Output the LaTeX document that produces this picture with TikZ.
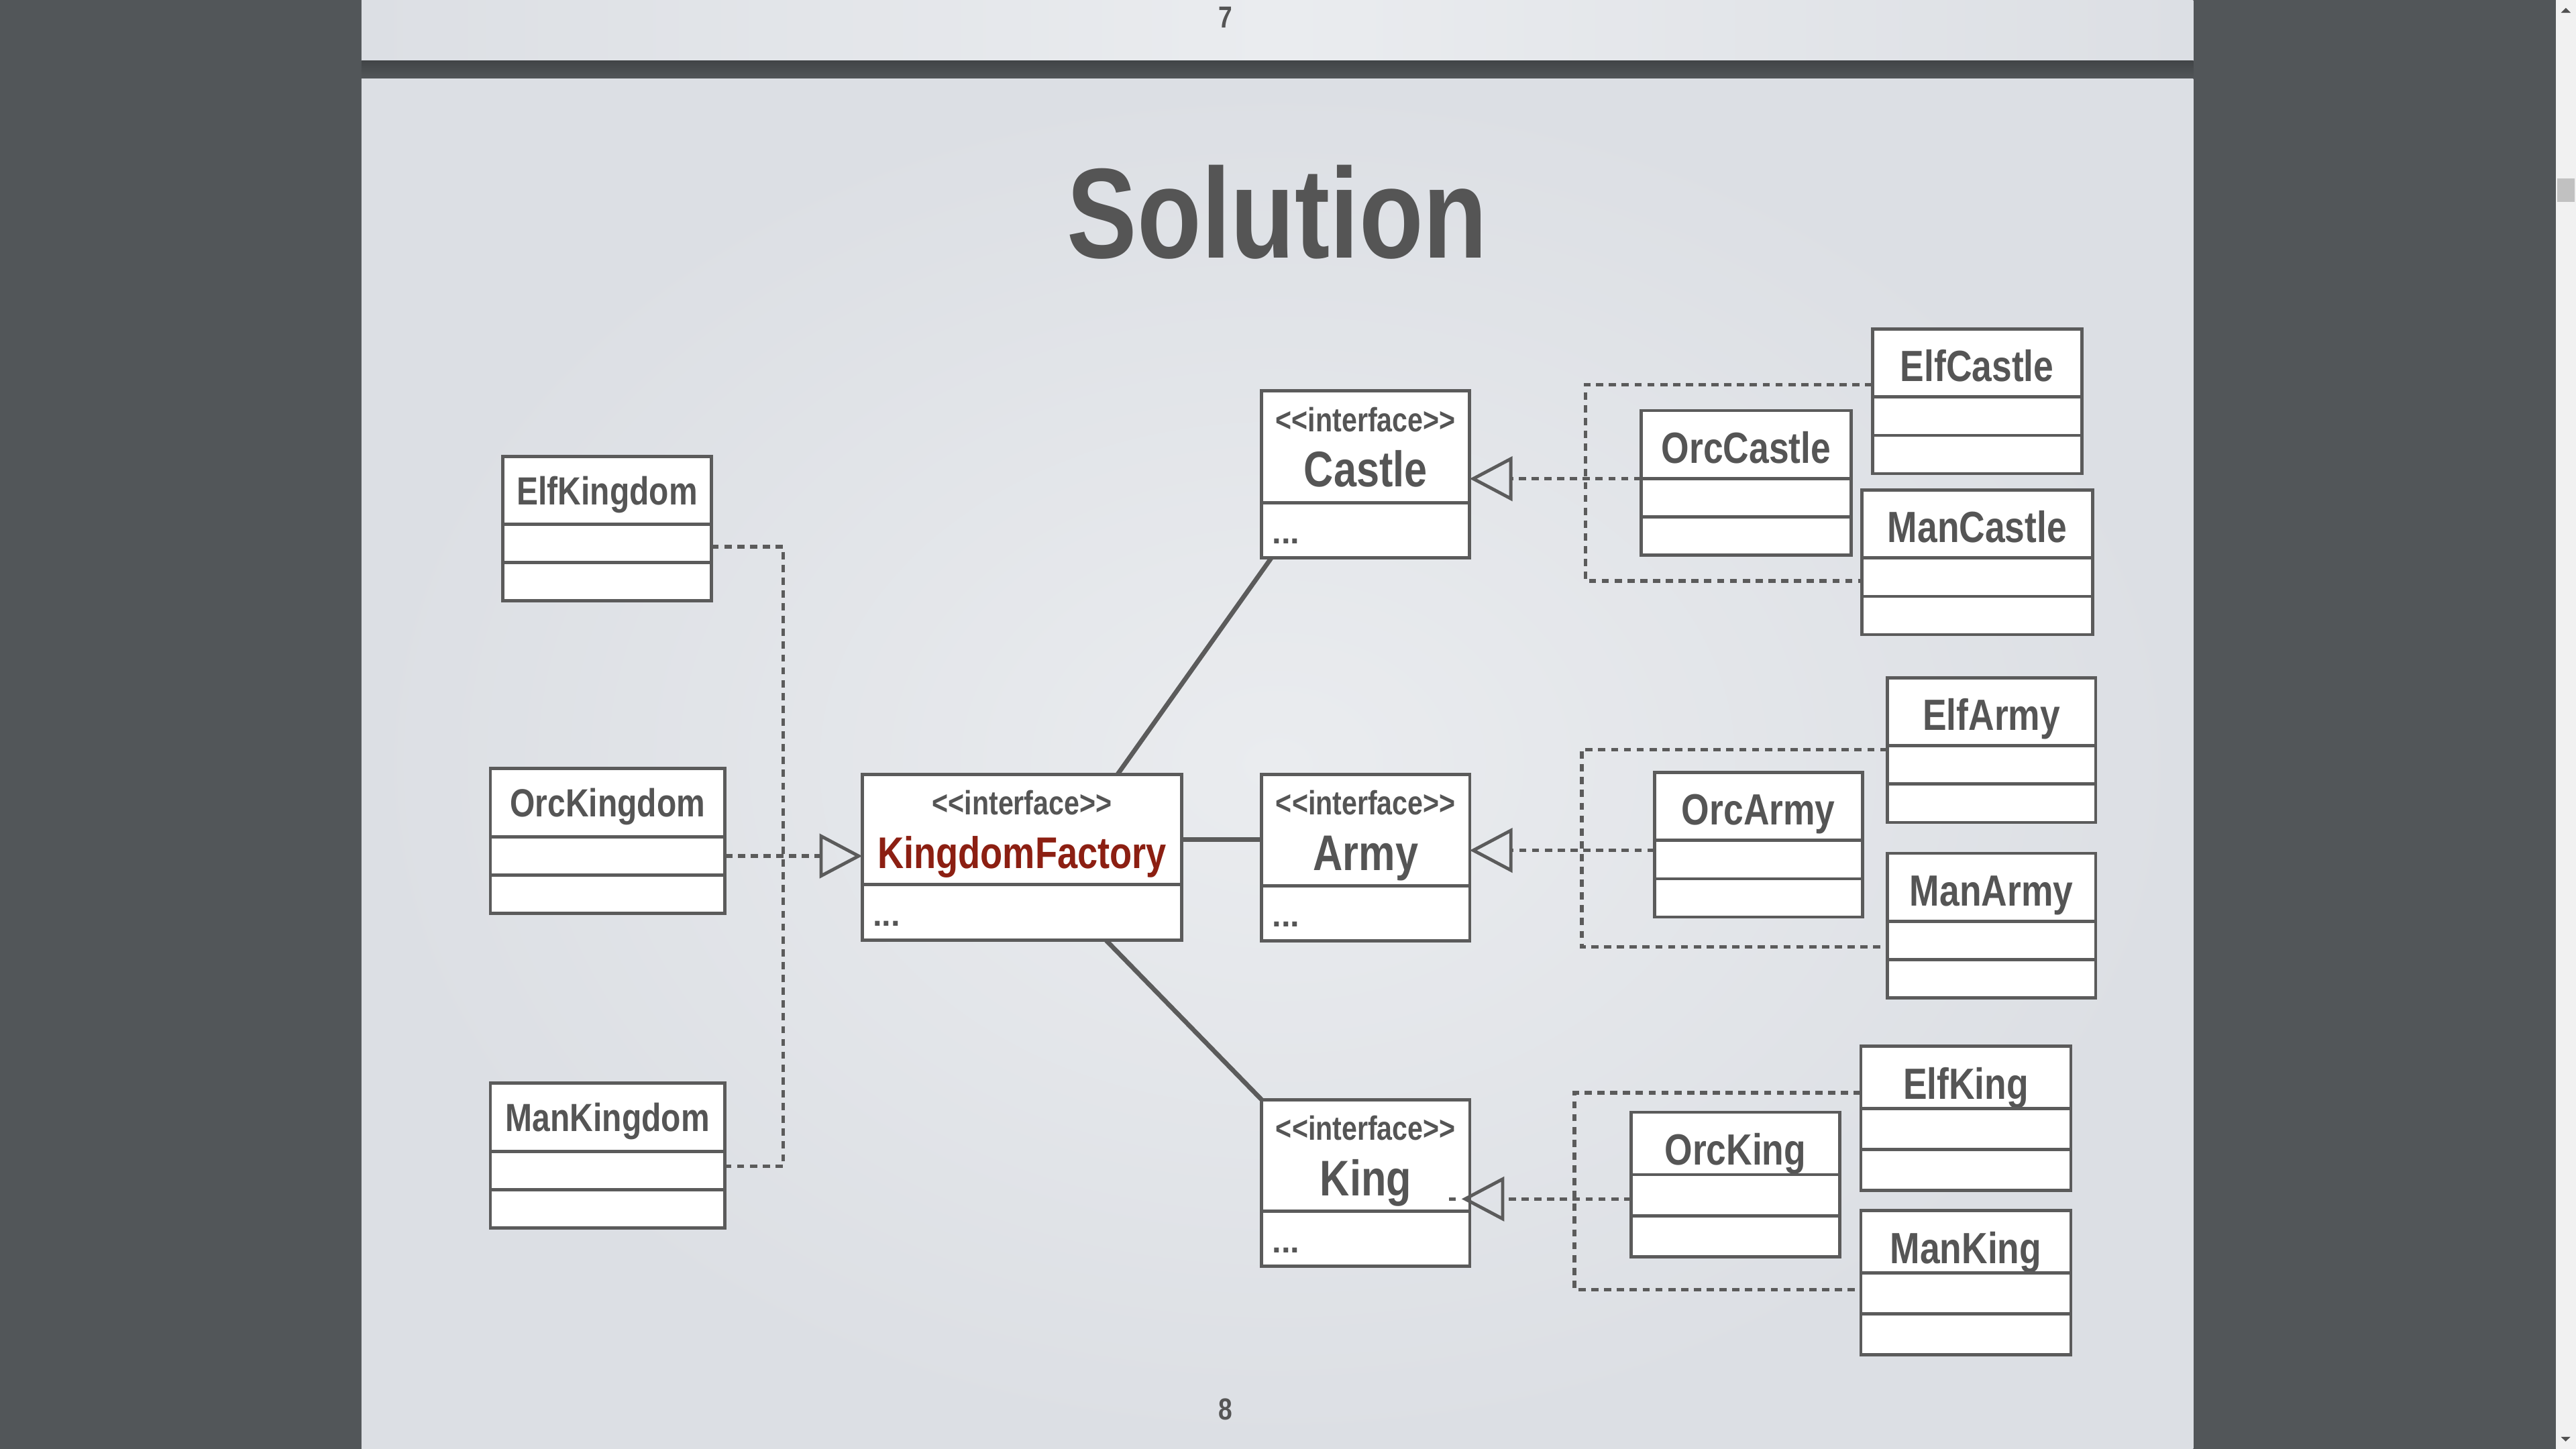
\documentclass[tikz,border=0pt]{standalone}
\usepackage{fontspec}
\setmainfont{Liberation Sans}[FakeStretch=0.82]
\newfontfamily\plainfont{Liberation Sans}
\newfontfamily\stereofamily{Liberation Sans}[FakeStretch=0.82]
\usetikzlibrary{positioning,arrows.meta}

\definecolor{desk}{HTML}{525659}
\definecolor{ink}{HTML}{5B5B5B}
\definecolor{txt}{HTML}{555555}
\definecolor{factory}{HTML}{8C1F12}
\definecolor{paperin}{HTML}{EAECEF}
\definecolor{paperout}{HTML}{DCDFE4}
\definecolor{track}{HTML}{F1F1F1}
\definecolor{thumb}{HTML}{C1C1C1}
\definecolor{scrollarrow}{HTML}{505050}

\newcommand\ifacefont{\fontsize{30.5}{34}\selectfont\bfseries}
\newcommand\factoryfont{\fontsize{27}{31}\selectfont\bfseries}
\newcommand\stereofont{\stereofamily\fontsize{20.5}{22}\selectfont\bfseries}
\newcommand\ellipsisfont{\plainfont\fontsize{20}{22}\selectfont\bfseries}
\newcommand\headfont{\fontsize{78}{88}\selectfont\bfseries}
\newcommand\pagenumfont{\fontsize{18.5}{20}\selectfont\bfseries}

\begin{document}
\begin{tikzpicture}[
    x=1pt, y=-1pt,
    box/.style={draw=ink, fill=white, line width=2pt, inner sep=0pt, outer sep=0pt, text=txt},
    cname/.style={box, text depth=0pt},
    cpart/.style={box},
    iname/.style={box, minimum width=126.7pt, minimum height=68pt, font=\ifacefont, text height=49pt, text depth=0pt},
    ibody/.style={box, text width=113.7pt, inner xsep=6.5pt, minimum height=33.5pt, align=left, font=\ellipsisfont, text height=16.5pt, text depth=0pt},
    stereo/.style={anchor=base, yshift=-24.7pt, inner sep=0pt, font=\stereofont, text=txt},
    pagenum/.style={anchor=base, inner sep=0pt, font=\pagenumfont, text=txt},
    assoc/.style={draw=ink, line width=2.8pt},
    dotline/.style={draw=ink, line width=2.2pt, dash pattern=on 4.4pt off 3.4pt},
    realize/.style={-{Triangle[open, length=26pt, width=27pt, line width=2pt]}}
]
    % screen, slides and scroll bar
    \useasboundingbox (0,0) rectangle (1568,882);
    \fill[desk] (0,0) rectangle (1568,882);
    \shade[left color=paperout, right color=paperout, middle color=paperin] (220,0) rectangle (1335,37);
    \shade[top color=desk!80!black, bottom color=desk] (220,37) rectangle (1335,48);
    \shade[inner color=paperin, outer color=paperout] (220,48) rectangle (1335,882);
    \fill[track] (1555.8,0) rectangle (1568,882);
    \fill[thumb] (1556.6,108.6) rectangle (1567.1,122.8);
    \fill[scrollarrow] (1558.8,7.8) -- (1561.8,4.8) -- (1564.8,7.8) -- cycle;
    \fill[scrollarrow] (1558.8,874.6) -- (1564.6,874.6) -- (1561.7,877.4) -- cycle;

    \node[pagenum] (prevnum) at (746,17) {7};
    \node[pagenum] (num) at (746,864.3) {8};
    \node[anchor=base, inner sep=0pt, font=\headfont, text=txt] (title) at (777.5,157) {Solution};

    % interfaces
    \node[iname, text=factory, font=\factoryfont, minimum width=194.6pt, minimum height=67pt, text height=47pt, anchor=north, label={[stereo]north:<<interface>>}] (kf) at (622.1,471.4) {KingdomFactory};
    \node[ibody, text width=181.6pt, minimum height=34pt, below=0pt of kf] (kf-b) {...};
    \node[iname, anchor=north, label={[stereo]north:<<interface>>}] (castle) at (831.25,237.9) {Castle};
    \node[ibody, below=0pt of castle] (castle-b) {...};
    \node[iname, anchor=north, label={[stereo]north:<<interface>>}] (army) at (831.3,471.3) {Army};
    \node[ibody, below=0pt of army] (army-b) {...};
    \node[iname, anchor=north, label={[stereo]north:<<interface>>}] (king) at (831.3,669.4) {King};
    \node[ibody, below=0pt of king] (king-b) {...};

    % concrete classes: name/text/x/top/width/name height/part height/font size/text height
    \foreach \n/\t/\x/\y/\w/\h/\p/\f/\th in {
        elfkingdom/ElfKingdom/369.55/277.7/127.1/41.5/23.3/23.9/17.3,
        orckingdom/OrcKingdom/369.9/467.9/142.8/41.5/23.3/23.9/17.3,
        mankingdom/ManKingdom/369.9/659.3/142.8/41.5/23.3/23.9/17.3,
        elfcastle/ElfCastle/1203.45/200.2/127.5/41.5/23.3/26.6/22.4,
        orccastle/OrcCastle/1062.9/249.9/127.8/41.5/23.3/26.6/22.4,
        mancastle/ManCastle/1203.5/298.2/140.6/41.5/23.3/26.6/22.4,
        elfarmy/ElfArmy/1212.2/412.5/126.8/41.5/23.3/26.6/22.4,
        orcarmy/OrcArmy/1070.35/470.1/126.5/41.5/23.3/26.6/22.4,
        manarmy/ManArmy/1212.2/519.4/126.8/41.5/23.3/26.6/22.4,
        elfking/ElfKing/1196.6/636.7/127.8/38/25/26.6/26.5,
        orcking/OrcKing/1056.3/677/126.8/38/25/26.6/26.5,
        manking/ManKing/1196.6/736.7/127.8/38/25/26.6/26.5}
    {
        \node[cname, font=\fontsize{\f}{\f}\selectfont\bfseries, text height=\th pt, minimum width=\w pt, minimum height=\h pt, anchor=north] (\n) at (\x,\y) {\t};
        \node[cpart, minimum width=\w pt, minimum height=\p pt, below=0pt of \n] (\n-1) {};
        \node[cpart, minimum width=\w pt, minimum height=\p pt, below=0pt of \n-1] (\n-2) {};
    }

    \coordinate (orcarmy-out) at ([yshift=-6pt]orcarmy-1.north west);
    \coordinate (orcking-out) at ([yshift=-2.3pt]orcking-1.west);
    \coordinate (king-in) at ([xshift=-5pt]king.east);
    \coordinate (kf-out) at ([yshift=-6.3pt]kf.east);

    % realizations
    \draw[dotline] ([yshift=-2pt]elfkingdom-1.east) -- ++(43.7,0) |- ([yshift=2.5pt]mankingdom-1.east);
    \draw[dotline, realize] (orckingdom-1.east) -- (orckingdom-1.east -| kf.west);
    \draw[dotline] ([yshift=7.6pt]elfcastle-1.north west) -| ([xshift=-34pt]orccastle.west) |- ([yshift=-2.3pt]mancastle-1.west);
    \draw[dotline, realize] (orccastle-1.north west) -- (orccastle-1.north west -| castle.east);
    \draw[dotline] ([yshift=-2.2pt]elfarmy-1.north west) -| ([xshift=-44.3pt]orcarmy.west) |- ([yshift=-3.9pt]manarmy-1.west);
    \draw[dotline, realize] (orcarmy-out) -- (orcarmy-out -| army.east);
    \draw[dotline] ([yshift=9.5pt]elfking-1.north west) -| ([xshift=-34.5pt]orcking.west) |- ([yshift=2.3pt]manking-1.west);
    \draw[dotline, realize] (orcking-out) -- (orcking-out -| king-in);
    \draw[dotline, dash phase=4.4pt] (orcking-out -| king-in) -- ++(-7.5,0);

    % associations
    \draw[assoc] ([xshift=155.4pt]kf.north west) -- ([xshift=6.1pt]castle-b.south west);
    \draw[assoc] (kf-out) -- (kf-out -| army.west);
    \draw[assoc] ([xshift=148.5pt]kf-b.south west) -- (king.north west);
\end{tikzpicture}
\end{document}
